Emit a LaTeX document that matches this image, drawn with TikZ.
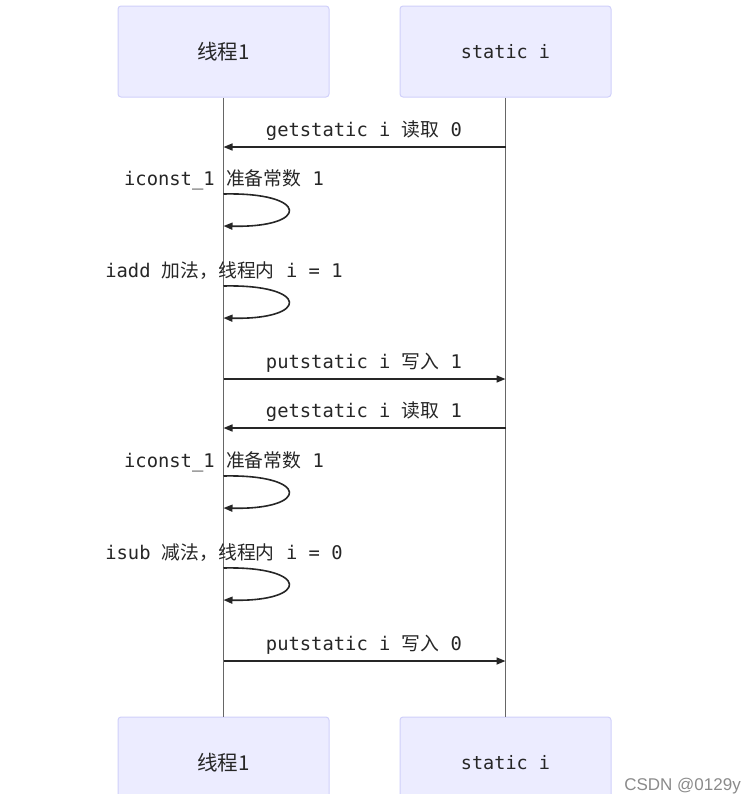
\documentclass[tikz,border=0pt]{standalone}
\usepackage{fontspec}
\setmonofont{DejaVu Sans Mono}
\newfontfamily\cjk{Noto Sans CJK SC}
\newfontfamily\csdnfont{Liberation Sans}
\usetikzlibrary{arrows.meta}
\definecolor{boxfill}{HTML}{ECECFF}
\definecolor{boxdraw}{HTML}{D0D0FA}
\definecolor{ink}{HTML}{262626}
\definecolor{life}{HTML}{666666}
\definecolor{wm}{HTML}{8A8A8A}
\newcommand{\Z}[1]{{\cjk #1}}
\tikzset{
  actor/.style={draw=boxdraw, fill=boxfill, line width=1pt, rounded corners=3pt,
    minimum width=211pt, minimum height=91pt, inner sep=0pt, text=ink},
  lifeline/.style={draw=life, line width=1.1pt},
  msg/.style={draw=ink, line width=1.6pt, -{Triangle[length=9pt,width=7pt]}},
  selfmsg/.style={draw=ink, line width=1.6pt, -{Triangle[length=9pt,width=7pt]}},
  lbl/.style={text=ink, inner sep=0pt, font=\ttfamily\fontsize{18.8}{21}\selectfont},
}
\begin{document}
\begin{tikzpicture}[x=1pt,y=-1pt]
\useasboundingbox (0,0) rectangle (754,806);
% top actors
\node[actor] (t1) at (223.5,51.5) {\fontsize{20.5}{22}\selectfont\Z{线程1}};
\node[actor] (ts) at (505.5,51.5) {\ttfamily\fontsize{18.5}{21}\selectfont static i};
% bottom actors (cut off by the screenshot)
\begin{scope}
\clip (0,0) rectangle (754,793.5);
\node[actor] (b1) at (223.5,762.5) {\fontsize{20.5}{22}\selectfont\Z{线程1}};
\node[actor] (bs) at (505.5,762.5) {\ttfamily\fontsize{18.5}{21}\selectfont static i};
\end{scope}
% lifelines
\draw[lifeline] (t1.south) -- (b1.north);
\draw[lifeline] (ts.south) -- (bs.north);
% message endpoints
\foreach \n/\y in {a/147, d/379, e/428, h/661}{
  \coordinate (L\n) at (223.5,\y);
  \coordinate (R\n) at (505.5,\y);
}
\foreach \n/\y in {b/194, c/286, f/476, g/568}{
  \coordinate (S\n) at (223.5,\y);
  \coordinate (E\n) at (223.5,\y+32);
}
% messages
\draw[msg] (Ra) -- (La);
\node[lbl] (ma) at (364,131) {getstatic i \Z{读取} 0};
\node[lbl] (mb) at (224,180) {iconst\_1 \Z{准备常数} 1};
\draw[selfmsg] (Sb) .. controls (310,192) and (310,228) .. (Eb);
\node[lbl] (mc) at (224,271) {iadd \Z{加法，线程内} i = 1};
\draw[selfmsg] (Sc) .. controls (310,284) and (310,320) .. (Ec);
\draw[msg] (Ld) -- (Rd);
\node[lbl] (md) at (364,363) {putstatic i \Z{写入} 1};
\draw[msg] (Re) -- (Le);
\node[lbl] (me) at (364,412) {getstatic i \Z{读取} 1};
\node[lbl] (mf) at (224,462) {iconst\_1 \Z{准备常数} 1};
\draw[selfmsg] (Sf) .. controls (310,474) and (310,510) .. (Ef);
\node[lbl] (mg) at (224,553) {isub \Z{减法，线程内} i = 0};
\draw[selfmsg] (Sg) .. controls (310,566) and (310,602) .. (Eg);
\draw[msg] (Lh) -- (Rh);
\node[lbl] (mh) at (364,645) {putstatic i \Z{写入} 0};
% signature
\node[text=wm, inner sep=0pt, anchor=east, font=\csdnfont\fontsize{17}{19}\selectfont] (sig) at (741,786) {CSDN @0129y};
\end{tikzpicture}
\end{document}
